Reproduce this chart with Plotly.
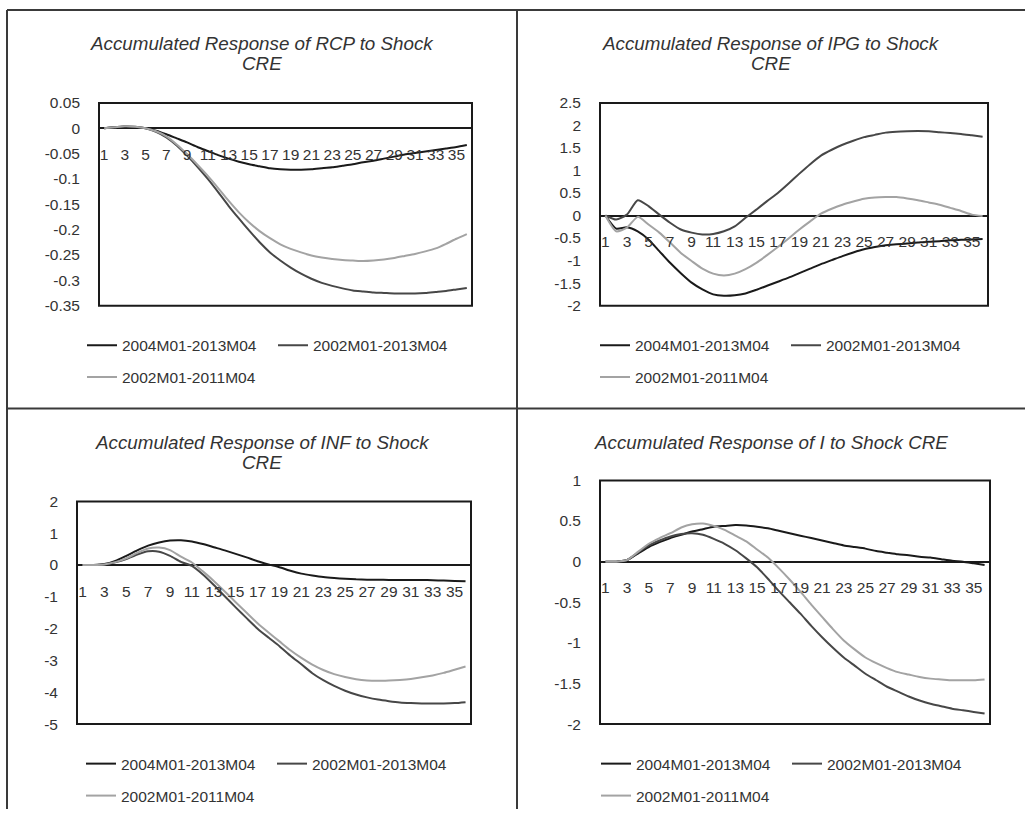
import plotly.graph_objects as go

W, H = 1025, 817

periods = list(range(1, 37))
x_tick_vals = list(range(1, 37, 2))
x_tick_text = [str(v) for v in x_tick_vals]

series_names = ["2004M01-2013M04", "2002M01-2013M04", "2002M01-2011M04"]

titles = [
    ["Accumulated Response of RCP to Shock", "CRE"],
    ["Accumulated Response of IPG to Shock", "CRE"],
    ["Accumulated Response of INF to Shock", "CRE"],
    ["Accumulated Response of I to Shock CRE"],
]

# ---- RCP ----
rcp_2004_2013 = [0, 0.002, 0.003, 0.002, 0.0, -0.005, -0.012, -0.020, -0.028, -0.037,
                 -0.045, -0.053, -0.060, -0.066, -0.071, -0.075, -0.079, -0.081, -0.082, -0.082,
                 -0.081, -0.079, -0.077, -0.074, -0.071, -0.067, -0.064, -0.060, -0.056, -0.052,
                 -0.049, -0.046, -0.043, -0.040, -0.037, -0.033]
rcp_2002_2013 = [0, 0.002, 0.004, 0.003, 0.0, -0.007, -0.018, -0.034, -0.054, -0.076,
                 -0.100, -0.126, -0.153, -0.178, -0.202, -0.225, -0.245, -0.261, -0.275, -0.287,
                 -0.297, -0.305, -0.311, -0.316, -0.320, -0.322, -0.324, -0.325, -0.326, -0.326,
                 -0.326, -0.325, -0.323, -0.321, -0.318, -0.315]
rcp_2002_2011 = [0, 0.002, 0.004, 0.003, 0.0, -0.006, -0.016, -0.032, -0.051, -0.072,
                 -0.094, -0.118, -0.143, -0.166, -0.186, -0.203, -0.217, -0.229, -0.238, -0.245,
                 -0.251, -0.255, -0.258, -0.260, -0.261, -0.262, -0.261, -0.259, -0.256, -0.252,
                 -0.248, -0.243, -0.237, -0.228, -0.218, -0.209]

# ---- IPG ----
ipg_2004_2013 = [0, -0.29, -0.26, -0.35, -0.53, -0.79, -1.05, -1.28, -1.49, -1.64,
                 -1.75, -1.78, -1.77, -1.73, -1.65, -1.56, -1.47, -1.38, -1.28, -1.18,
                 -1.08, -0.99, -0.90, -0.82, -0.75, -0.70, -0.66, -0.64, -0.62, -0.60,
                 -0.58, -0.57, -0.55, -0.54, -0.53, -0.52]
ipg_2002_2013 = [0, -0.09, 0.02, 0.34, 0.21, 0.02, -0.16, -0.31, -0.38, -0.42,
                 -0.41, -0.35, -0.24, -0.05, 0.13, 0.32, 0.50, 0.71, 0.93, 1.14,
                 1.33, 1.46, 1.57, 1.66, 1.74, 1.79, 1.84, 1.86, 1.87, 1.875,
                 1.87, 1.85, 1.83, 1.81, 1.78, 1.75]
ipg_2002_2011 = [0, -0.35, -0.27, -0.03, -0.20, -0.38, -0.60, -0.83, -1.01, -1.18,
                 -1.29, -1.33, -1.29, -1.19, -1.05, -0.88, -0.70, -0.51, -0.31, -0.13,
                 0.04, 0.15, 0.24, 0.31, 0.37, 0.40, 0.41, 0.41, 0.38, 0.34,
                 0.29, 0.24, 0.17, 0.10, 0.02, -0.01]

# ---- INF ----
inf_2004_2013 = [0, 0.0, 0.03, 0.13, 0.29, 0.46, 0.61, 0.71, 0.77, 0.78,
                 0.74, 0.66, 0.56, 0.46, 0.35, 0.24, 0.12, 0.02, -0.07, -0.18,
                 -0.27, -0.33, -0.38, -0.41, -0.43, -0.45, -0.46, -0.46, -0.47, -0.47,
                 -0.47, -0.47, -0.48, -0.49, -0.50, -0.51]
inf_2002_2013 = [0, 0.0, 0.02, 0.09, 0.19, 0.33, 0.43, 0.42, 0.29, 0.10,
                 -0.03, -0.30, -0.63, -0.98, -1.33, -1.67, -2.00, -2.28, -2.55, -2.85,
                 -3.12, -3.40, -3.62, -3.80, -3.95, -4.07, -4.16, -4.23, -4.28, -4.32,
                 -4.34, -4.35, -4.35, -4.35, -4.34, -4.31]
inf_2002_2011 = [0, 0.0, 0.02, 0.09, 0.21, 0.38, 0.52, 0.55, 0.47, 0.26,
                 0.08, -0.20, -0.50, -0.83, -1.17, -1.50, -1.83, -2.12, -2.40, -2.68,
                 -2.92, -3.13, -3.30, -3.43, -3.52, -3.59, -3.63, -3.64, -3.63, -3.61,
                 -3.58, -3.53, -3.47, -3.39, -3.29, -3.19]

# ---- I ----
i_2004_2013 = [0, 0.0, 0.02, 0.10, 0.18, 0.24, 0.29, 0.33, 0.37, 0.40,
               0.43, 0.44, 0.45, 0.445, 0.43, 0.41, 0.38, 0.35, 0.32, 0.29,
               0.26, 0.23, 0.20, 0.18, 0.16, 0.13, 0.11, 0.09, 0.08, 0.06,
               0.05, 0.03, 0.01, 0.0, -0.02, -0.04]
i_2002_2013 = [0, 0.0, 0.02, 0.11, 0.20, 0.26, 0.31, 0.34, 0.35, 0.33,
               0.28, 0.22, 0.14, 0.04, -0.07, -0.21, -0.36, -0.50, -0.64, -0.79,
               -0.93, -1.06, -1.18, -1.28, -1.38, -1.46, -1.54, -1.60, -1.66, -1.71,
               -1.75, -1.78, -1.81, -1.83, -1.85, -1.87]
i_2002_2011 = [0, 0.0, 0.02, 0.12, 0.22, 0.29, 0.35, 0.42, 0.46, 0.47,
               0.44, 0.39, 0.32, 0.25, 0.15, 0.05, -0.08, -0.22, -0.37, -0.53,
               -0.68, -0.83, -0.97, -1.08, -1.18, -1.25, -1.31, -1.36, -1.39, -1.42,
               -1.44, -1.45, -1.46, -1.46, -1.46, -1.45]

rcp_y_ticks = [0.05, 0, -0.05, -0.1, -0.15, -0.2, -0.25, -0.3, -0.35]
rcp_y_text = ["0.05", "0", "-0.05", "-0.1", "-0.15", "-0.2", "-0.25", "-0.3", "-0.35"]
ipg_y_ticks = [2.5, 2, 1.5, 1, 0.5, 0, -0.5, -1, -1.5, -2]
ipg_y_text = ["2.5", "2", "1.5", "1", "0.5", "0", "-0.5", "-1", "-1.5", "-2"]
inf_y_ticks = [2, 1, 0, -1, -2, -3, -4, -5]
inf_y_text = ["2", "1", "0", "-1", "-2", "-3", "-4", "-5"]
i_y_ticks = [1, 0.5, 0, -0.5, -1, -1.5, -2]
i_y_text = ["1", "0.5", "0", "-0.5", "-1", "-1.5", "-2"]

panels_data = [
    (rcp_2004_2013, rcp_2002_2013, rcp_2002_2011, rcp_y_ticks, rcp_y_text),
    (ipg_2004_2013, ipg_2002_2013, ipg_2002_2011, ipg_y_ticks, ipg_y_text),
    (inf_2004_2013, inf_2002_2013, inf_2002_2011, inf_y_ticks, inf_y_text),
    (i_2004_2013, i_2002_2013, i_2002_2011, i_y_ticks, i_y_text),
]

# ---------------- layout (pixel boxes, in target-picture coordinates) ----------------
# the rendered picture shows the page with an 8px band top and bottom;
# convert target-picture y to page y accordingly
V_OFF = 8.0
V_SCALE = (H - 2 * V_OFF) / H

def px(x):
    return x / W

def py(y):
    y_page = (y - V_OFF) / V_SCALE
    return 1 - y_page / H

# plot boxes: left, right, top, bottom (pixels)
boxes = [(99, 472, 102, 305), (600, 988, 102, 305), (77, 471, 501, 724), (600, 990, 480, 724)]
title_pos = [(262, 43), (771, 43), (262, 442), (771, 442)]
TITLE_LINE = 20
legend_pos = [(75, 345, 377), (588, 345, 377), (74, 764, 796), (589, 764, 796)]

colors = ["#1a1a1a", "#474747", "#a3a3a3"]
FONT = "Liberation Sans, Arial, sans-serif"
TXT = "#333333"

fig = go.Figure()
layout = dict(
    width=W, height=H, margin=dict(l=0, r=0, t=0, b=0),
    paper_bgcolor="white", plot_bgcolor="white",
    font=dict(family=FONT, size=15.5, color=TXT),
    shapes=[], annotations=[],
)

for k, (d0, d1, d2, yt, ytt) in enumerate(panels_data):
    n = k + 1
    xa = "xaxis" if n == 1 else f"xaxis{n}"
    ya = "yaxis" if n == 1 else f"yaxis{n}"
    xr = "x" if n == 1 else f"x{n}"
    yr = "y" if n == 1 else f"y{n}"
    l, r, t, b = boxes[k]
    ymin, ymax = min(yt), max(yt)
    ydom = [py(b), py(t)]
    zero_pos = ydom[0] + (0 - ymin) / (ymax - ymin) * (ydom[1] - ydom[0])
    leg_a = f"legend{2 * k + 1}" if k > 0 else "legend"
    leg_b = f"legend{2 * k + 2}"
    for vals, name, col, lg in zip((d0, d1, d2), series_names, colors, (leg_a, leg_a, leg_b)):
        fig.add_trace(go.Scatter(
            x=periods, y=vals, name=name, mode="lines",
            line=dict(color=col, width=2, shape="spline", smoothing=0.6),
            xaxis=xr, yaxis=yr, legend=lg, showlegend=True,
        ))
    layout[xa] = dict(
        domain=[px(l), px(r)], range=[0.5, 36.5], anchor="free", position=zero_pos,
        tickmode="array", tickvals=x_tick_vals, ticktext=x_tick_text,
        showgrid=False, zeroline=False, showline=False, ticks="",
        ticklabelstandoff=15, tickfont=dict(size=15.5, color=TXT),
    )
    layout[ya] = dict(
        domain=ydom, range=[ymin, ymax], anchor=xr,
        tickmode="array", tickvals=yt, ticktext=ytt,
        showgrid=False, zeroline=True, zerolinecolor="#1a1a1a", zerolinewidth=2,
        showline=False, ticks="", ticklabelstandoff=18,
        tickfont=dict(size=15.5, color=TXT),
    )
    layout["shapes"].append(dict(
        type="rect", xref=f"{xr} domain", yref=f"{yr} domain", x0=0, x1=1, y0=0, y1=1,
        line=dict(color="#1a1a1a", width=2), fillcolor="rgba(0,0,0,0)", layer="above",
    ))
    tx, ty = title_pos[k]
    for j, line_text in enumerate(titles[k]):
        layout["annotations"].append(dict(
            text=line_text, x=px(tx), y=py(ty + j * TITLE_LINE), xref="paper", yref="paper",
            xanchor="center", yanchor="middle", showarrow=False,
            font=dict(family=FONT, size=18.8, color=TXT, style="italic"),
        ))
    lx, ly1, ly2 = legend_pos[k]
    for lg, ly in ((leg_a, ly1), (leg_b, ly2)):
        layout[lg] = dict(
            orientation="h", x=px(lx + 7), y=py(ly), xanchor="left", yanchor="middle",
            xref="paper", yref="paper", bgcolor="rgba(0,0,0,0)", borderwidth=0,
            font=dict(family=FONT, size=15.5, color=TXT), itemwidth=30, tracegroupgap=0,
            entrywidth=146, entrywidthmode="pixels",
        )

# panel borders
border = dict(color="#3a3a3a", width=2)
layout["shapes"] += [
    dict(type="line", xref="paper", yref="paper", x0=px(7), x1=1, y0=py(9), y1=py(9), line=border),
    dict(type="line", xref="paper", yref="paper", x0=px(7), x1=px(7), y0=py(9), y1=0, line=border),
    dict(type="line", xref="paper", yref="paper", x0=px(517), x1=px(517), y0=py(9), y1=0, line=border),
    dict(type="line", xref="paper", yref="paper", x0=px(7), x1=1, y0=py(408), y1=py(408), line=border),
]

fig.update_layout(**layout)

pin_js = (
    "document.documentElement.style.margin='0';"
    "document.documentElement.style.overflow='hidden';"
    "document.body.style.margin='0';"
    "document.body.style.overflow='hidden';"
    "var gd=document.getElementById('{plot_id}');"
    "gd.style.position='fixed';gd.style.left='0px';gd.style.top='0px';"
)
fig.write_html("out.html", config={"displayModeBar": False}, post_script=pin_js)
